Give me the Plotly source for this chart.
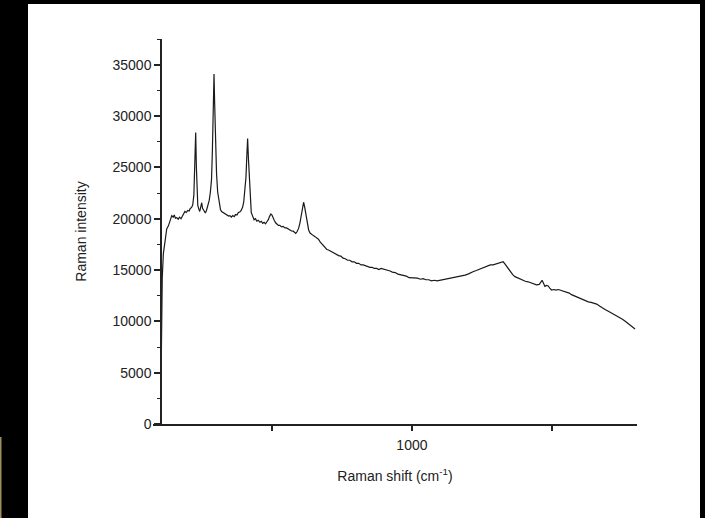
import plotly.graph_objects as go

# Raman spectrum
raman_shift = [104, 106, 108, 112, 118, 124, 130, 136, 142, 147, 151, 155, 160, 165, 170, 175, 180, 185, 189, 194,
               199, 204, 208, 213, 217, 221, 224, 227.5, 230, 232, 235, 239, 242, 246, 249, 252, 257, 262, 266, 271,
               276, 280, 284, 287, 290, 293, 295, 298, 302, 306, 311, 316, 320, 325, 330, 335, 340, 345, 350, 355,
               360, 365, 370, 375, 380, 385, 390, 395, 399, 403, 407, 410, 413, 416, 419, 422, 426, 431, 436, 441,
               446, 451, 457, 462, 467, 472, 477, 482, 487, 491, 496, 500, 504, 508, 513, 518, 523, 528, 534, 540,
               546, 552, 558, 564, 570, 576, 581, 585, 590, 595, 600, 605, 609, 613, 617, 621, 626, 631, 636, 642,
               648, 654, 660, 666, 672, 678, 684, 690, 696, 702, 708, 714, 722, 730, 738, 746, 754, 762, 770, 778,
               786, 794, 802, 810, 818, 826, 834, 842, 850, 858, 866, 874, 882, 890, 898, 906, 914, 922, 930, 940,
               950, 960, 970, 980, 990, 1000, 1010, 1020, 1030, 1040, 1050, 1060, 1070, 1080, 1090, 1100, 1110, 1120, 1130, 1140,
               1150, 1160, 1170, 1180, 1190, 1200, 1210, 1220, 1230, 1240, 1250, 1260, 1270, 1280, 1290, 1300, 1310, 1320, 1326, 1332,
               1338, 1344, 1352, 1360, 1368, 1376, 1385, 1395, 1405, 1415, 1425, 1435, 1445, 1455, 1460, 1465, 1470, 1475, 1480, 1487,
               1493, 1499, 1507, 1515, 1523, 1530, 1538, 1546, 1554, 1562, 1570, 1578, 1588, 1598, 1608, 1618, 1630, 1640, 1650, 1660,
               1670, 1680, 1690, 1700, 1710, 1720, 1730, 1743, 1752, 1762, 1772, 1782, 1790, 1797]
intensity = [4800, 12000, 14200, 16600, 18000, 19000, 19300, 19900, 20300, 20150, 20350, 20050, 20100, 19950, 20150, 20000, 20250, 20400, 20700, 20600,
             20800, 20750, 21000, 21100, 21350, 22300, 25500, 28400, 25000, 22300, 21300, 20900, 20700, 21200, 21550, 21000, 20700, 20550, 20800, 21300,
             21800, 22600, 23800, 26500, 30500, 34100, 31500, 27000, 24400, 22600, 21500, 20900, 20700, 20600, 20550, 20400, 20350, 20250, 20300, 20150,
             20300, 20200, 20400, 20350, 20600, 20650, 20800, 21100, 21600, 22600, 24000, 26000, 27800, 25800, 23700, 21800, 20600, 20250, 19900, 20000,
             19750, 19850, 19650, 19750, 19550, 19650, 19500, 19700, 19900, 20200, 20450, 20350, 20000, 19850, 19600, 19500, 19350, 19350, 19200, 19250,
             19100, 19100, 18990, 18950, 18800, 18780, 18600, 18570, 18750, 19050, 19600, 20400, 21100, 21600, 21100, 20400, 19500, 18900, 18600, 18450,
             18350, 18250, 18150, 18000, 17750, 17550, 17300, 17150, 17000, 16950, 16850, 16800, 16600, 16550, 16400, 16350, 16150, 16100, 15950, 15950,
             15800, 15800, 15650, 15650, 15500, 15500, 15400, 15350, 15250, 15250, 15150, 15150, 15050, 15150, 15100, 15050, 14950, 14900, 14800, 14750,
             14600, 14550, 14450, 14400, 14250, 14250, 14200, 14200, 14100, 14150, 14050, 14050, 13950, 14000, 13950, 14000, 14050, 14100, 14150, 14200,
             14250, 14300, 14350, 14450, 14500, 14600, 14750, 14850, 14950, 15050, 15150, 15300, 15350, 15500, 15500, 15600, 15650, 15750, 15800, 15600,
             15350, 15150, 14850, 14550, 14350, 14250, 14100, 14050, 13900, 13850, 13750, 13700, 13550, 13600, 13800, 14000, 13700, 13400, 13500, 13450,
             13200, 13050, 13100, 13050, 13100, 13050, 12950, 12900, 12880, 12750, 12600, 12500, 12400, 12250, 12100, 12000, 11900, 11850, 11750, 11680,
             11500, 11300, 11150, 11000, 10850, 10700, 10550, 10390, 10200, 10000, 9800, 9600, 9400, 9250]

x_tick_vals = [500, 1000, 1500]
x_tick_text = ["", "1000", ""]
y_tick_vals = [0, 5000, 10000, 15000, 20000, 25000, 30000, 35000]
y_tick_text = [str(v) for v in y_tick_vals]

fig = go.Figure()
fig.add_trace(go.Scatter(x=raman_shift, y=intensity, mode="lines",
                         line=dict(color="#1a1a1a", width=1.2), showlegend=False))

font = dict(family="Liberation Sans, Arial, sans-serif", size=14, color="#222")

fig.update_layout(
    width=705, height=518,
    margin=dict(l=153, r=68, t=39, b=94, autoexpand=False),
    paper_bgcolor="white", plot_bgcolor="white",
    font=font,
    xaxis=dict(range=[75, 1804], showgrid=False, zeroline=False, automargin=False,
               showline=True, linecolor="#222", linewidth=1.5,
               ticks="outside", ticklen=5, tickwidth=1.5, tickcolor="#222",
               tickvals=x_tick_vals, ticktext=x_tick_text, ticklabelstandoff=2,
               title=dict(text="Raman shift (cm<sup>-1</sup>)", standoff=20, font=font)),
    yaxis=dict(range=[0, 37500], showgrid=False, zeroline=False, automargin=False,
               anchor="free", position=8 / 484,
               showline=True, linecolor="#222", linewidth=1.5,
               ticks="outside", ticklen=6, tickwidth=1.5, tickcolor="#222",
               tickvals=y_tick_vals, ticktext=y_tick_text,
               minor=dict(ticks="outside", ticklen=3, tickwidth=1, tickcolor="#222", dtick=2500, showgrid=False),
               title=dict(text="Raman intensity", standoff=22, font=font)),
)

# black frame of the original picture
frame = [(-0.31612, -0.25826, -0.24416, 1.10130, "black"),
         (-0.31612, 1.14050, 1.09091, 1.10130, "black"),
         (1.13017, 1.14050, -0.24416, 1.10130, "black"),
         (-0.31612, -0.31302, -0.24416, -0.03377, "#9c8f5c")]
for x0, x1, y0, y1, c in frame:
    fig.add_shape(type="rect", xref="paper", yref="paper", x0=x0, x1=x1, y0=y0, y1=y1,
                  fillcolor=c, line=dict(width=0), layer="above")

fig.write_html("out.html", config={"displayModeBar": False},
               post_script="document.body.style.margin='0';")
